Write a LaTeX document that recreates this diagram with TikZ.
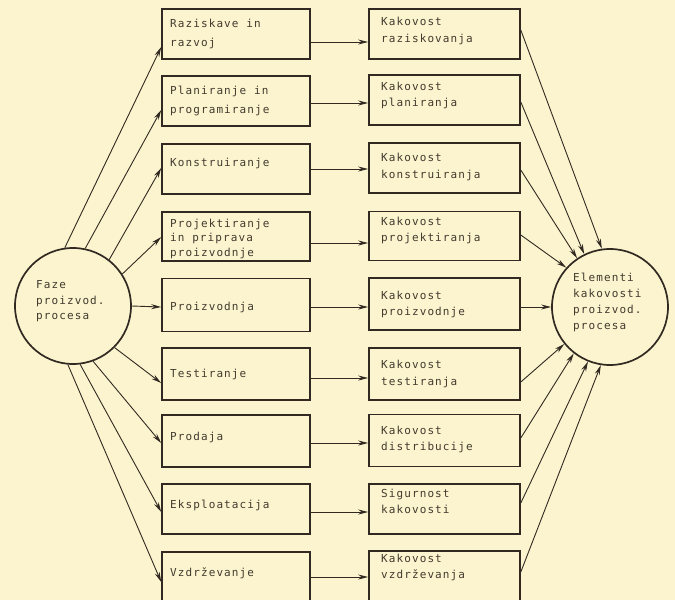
\documentclass[tikz,border=0pt]{standalone}
\usepackage{fontspec}
\newfontfamily\twfont[LetterSpace=10]{DejaVu Sans Mono}
\usetikzlibrary{arrows.meta}
\definecolor{paper}{RGB}{251,244,206}
\definecolor{ink}{RGB}{50,42,34}
\definecolor{txt}{RGB}{66,58,46}
\begin{document}
\begin{tikzpicture}[x=1pt,y=-1pt,
 box/.style={draw=ink, line width=1.6pt, minimum width=148pt, inner sep=0pt},
 rbox/.style={box, minimum width=151pt},
 circ/.style={draw=ink, line width=1.7pt, circle, minimum size=116pt, inner sep=0pt},
 lab/.style={anchor=west, inner sep=0pt, align=left, text=txt, font={\twfont\fontsize{11}{16}\selectfont}},
 arr/.style={draw=ink, line width=0.9pt, -{Stealth[length=10pt,width=5pt]}}]
\fill[paper] (0,0) rectangle (675,600);
\useasboundingbox (0,0) rectangle (675,600);

% circles
\node[circ] (F) at (73,306) {};
\node[circ] (E) at (610,307) {};
\node[lab] (tF) at (36,301.5) {Faze\\[-0.5pt]proizvod.\\[-0.5pt]procesa};
\node[lab] (tE) at (573,302) {Elementi\\kakovosti\\proizvod.\\procesa};

% left boxes
\node[box, minimum height=50pt] (L1) at (236,34) {};
\node[box, minimum height=50pt] (L2) at (236,101) {};
\node[box, minimum height=50pt] (L3) at (236,169) {};
\node[box, minimum height=49pt] (L4) at (236,236.5) {};
\node[box, minimum height=53pt] (L5) at (236,305) {};
\node[box, minimum height=52pt] (L6) at (236,374) {};
\node[box, minimum height=52pt] (L7) at (236,441) {};
\node[box, minimum height=50pt] (L8) at (236,509) {};
\node[box, minimum height=58pt] (L9) at (236,581) {};

% right boxes
\node[rbox, minimum height=50pt] (R1) at (444.5,34) {};
\node[rbox, minimum height=50pt] (R2) at (444.5,100) {};
\node[rbox, minimum height=50pt] (R3) at (444.5,168) {};
\node[rbox, minimum height=49pt] (R4) at (444.5,236) {};
\node[rbox, minimum height=52pt] (R5) at (444.5,304) {};
\node[rbox, minimum height=52pt] (R6) at (444.5,374) {};
\node[rbox, minimum height=52pt] (R7) at (444.5,440.5) {};
\node[rbox, minimum height=50pt] (R8) at (444.5,509) {};
\node[rbox, minimum height=58pt] (R9) at (444.5,580) {};

% left texts
\node[lab] (tL1) at (170,33.5) {Raziskave in\\[3pt]razvoj};
\node[lab] (tL2) at (170,100.5) {Planiranje in\\[3pt]programiranje};
\node[lab] (tL3) at (170,163) {Konstruiranje};
\node[lab] (tL4) at (170,238.5) {Projektiranje\\[-1.5pt]in priprava\\[-1.5pt]proizvodnje};
\node[lab] (tL5) at (170,307) {Proizvodnja};
\node[lab] (tL6) at (170,374) {Testiranje};
\node[lab] (tL7) at (170,437) {Prodaja};
\node[lab] (tL8) at (170,505) {Eksploatacija};
\node[lab] (tL9) at (170,573) {Vzdrževanje};

% right texts
\node[lab] (tR1) at (381,31) {Kakovost\\[1pt]raziskovanja};
\node[lab] (tR2) at (381,95) {Kakovost\\planiranja};
\node[lab] (tR3) at (381,166.5) {Kakovost\\[1pt]konstruiranja};
\node[lab] (tR4) at (381,230.5) {Kakovost\\projektiranja};
\node[lab] (tR5) at (381,304) {Kakovost\\proizvodnje};
\node[lab] (tR6) at (381,374) {Kakovost\\[1pt]testiranja};
\node[lab] (tR7) at (381,439.5) {Kakovost\\distribucije};
\node[lab] (tR8) at (381,503.5) {Sigurnost\\kakovosti\strut};
\node[lab] (tR9) at (381,567) {Kakovost\\vzdrževanja};

% phases -> boxes
\foreach \i/\a/\y in {1/98/47, 2/78/110, 3/52/168, 4/33/237, 5/0/307, 6/315/383, 7/290/443, 8/277/512, 9/265/582}
  \draw[arr] (F.\a) -- (L\i.west |- 0,\y);

% horizontal
\foreach \i/\y in {1/42, 2/103, 3/169, 4/243, 5/307, 6/378, 7/443, 8/512, 9/577}
  \draw[arr] (L\i.east |- 0,\y) -- (R\i.west |- 0,\y);

% quality -> elements
\foreach \i/\y/\a in {1/30/98, 2/102/116, 3/170/124, 4/235/138, 5/307/180, 6/382/219, 7/438/232, 8/503/248, 9/572/261}
  \draw[arr] (R\i.east |- 0,\y) -- (E.\a);
\end{tikzpicture}
\end{document}
